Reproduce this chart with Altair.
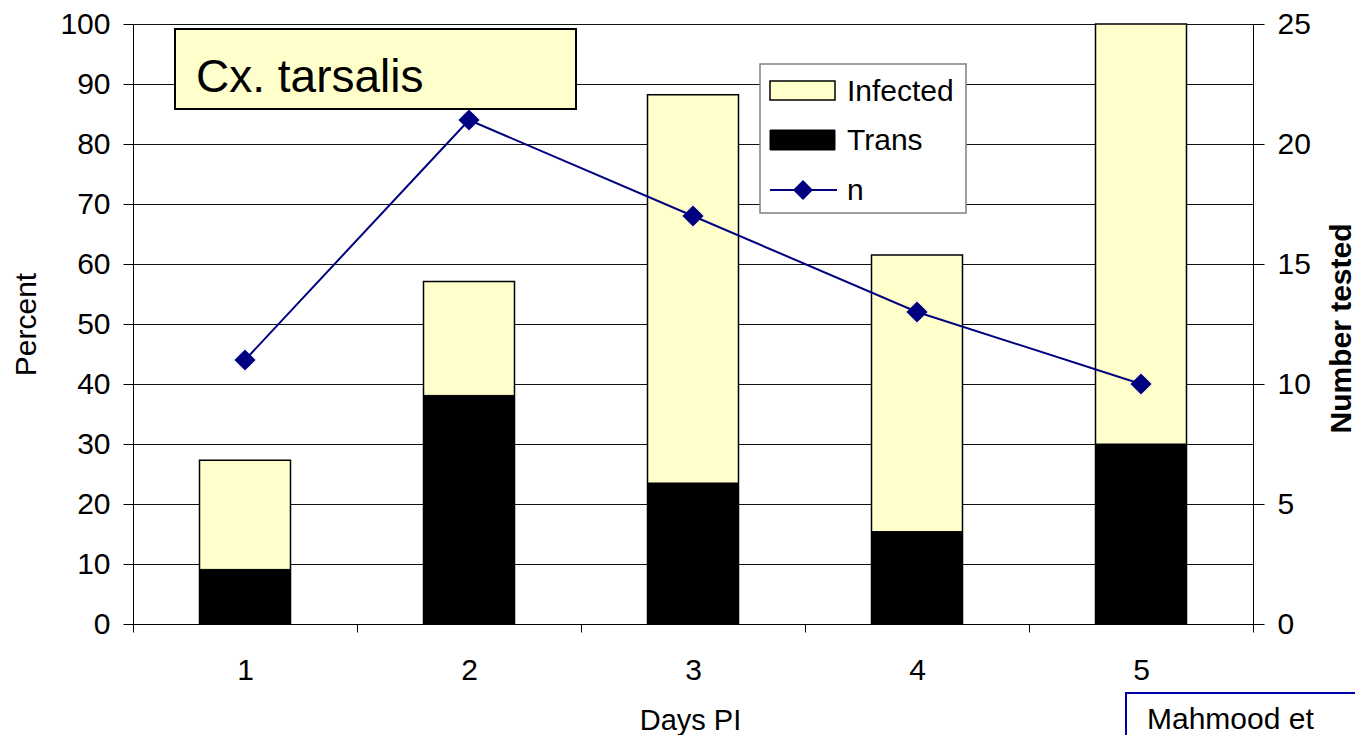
import altair as alt
import pandas as pd

# ---- data ----
days = [1, 2, 3, 4, 5]
infected = [27.3, 57.1, 88.2, 61.5, 100.0]
trans = [9.1, 38.1, 23.5, 15.4, 30.0]
n_tested = [11, 21, 17, 13, 10]

left_ticks = [0, 10, 20, 30, 40, 50, 60, 70, 80, 90, 100]
right_ticks = [0, 5, 10, 15, 20, 25]
x_bounds = [0.5, 1.5, 2.5, 3.5, 4.5, 5.5]

df = pd.DataFrame({"day": days, "Infected": infected, "Trans": trans, "n": n_tested})
one = pd.DataFrame({"k": [0]})

FONT = "Liberation Sans"
W, H = 1120, 600
YELLOW = "#FFFFCC"
NAVY = "#000080"

xscale = alt.Scale(domain=[0.5, 5.5], nice=False, zero=False, padding=0)
xaxis = alt.Axis(
    values=x_bounds,
    labelExpr="datum.value < 5 ? format(datum.value + 0.5, 'd') : ''",
    labelOffset=112, labelFlush=False, labelBound=False, labelOverlap=False,
    tickSize=8, tickColor="black", domainColor="black", grid=False,
    labelFontSize=30, labelPadding=23, labelColor="black",
    title="Days PI", titleX=557, titleY=96, titleBaseline="middle",
    titleAlign="center", titleFontSize=29, titleFontWeight="normal", titleColor="black",
)
yleft = alt.Axis(
    values=left_ticks, grid=True, gridColor="#111", gridWidth=1,
    tickSize=10, tickColor="black", domainColor="black",
    labelFontSize=30, labelPadding=13, labelColor="black",
    title="Percent", titleAngle=270, titleX=-107, titleY=300,
    titleBaseline="middle", titleAlign="center", titleFontSize=30,
    titleFontWeight="normal", titleColor="black",
)
yright = alt.Axis(
    orient="right", values=right_ticks, grid=False,
    tickSize=11, tickColor="black", domainColor="black",
    labelFontSize=30, labelPadding=13, labelColor="black",
    title="Number tested", titleAngle=270, titleX=88, titleY=304,
    titleBaseline="middle", titleAlign="center", titleFontSize=30,
    titleFontWeight="bold", titleColor="black",
)

base = alt.Chart(df)

bar_inf = base.mark_bar(size=91, fill=YELLOW, stroke="black", strokeWidth=1.5).encode(
    x=alt.X("day:Q", scale=xscale, axis=xaxis),
    y=alt.Y("Infected:Q", scale=alt.Scale(domain=[0, 100], nice=False), axis=yleft),
)
bar_trans = base.mark_bar(size=91, fill="black", stroke="black", strokeWidth=1).encode(
    x=alt.X("day:Q", scale=xscale),
    y=alt.Y("Trans:Q", scale=alt.Scale(domain=[0, 100], nice=False)),
)
bars = alt.layer(bar_inf, bar_trans)

line = base.mark_line(color=NAVY, strokeWidth=2).encode(
    x=alt.X("day:Q", scale=xscale),
    y=alt.Y("n:Q", scale=alt.Scale(domain=[0, 25], nice=False), axis=yright),
)
pts = base.mark_point(shape="diamond", filled=True, size=450, color=NAVY, opacity=1).encode(
    x=alt.X("day:Q", scale=xscale),
    y=alt.Y("n:Q", scale=alt.Scale(domain=[0, 25], nice=False)),
)
nlayer = alt.layer(line, pts)


def box(x, x2, y, y2, fill, stroke, sw):
    return alt.Chart(one).mark_rect(fill=fill, stroke=stroke, strokeWidth=sw).encode(
        x=alt.value(x), x2=alt.value(x2), y=alt.value(y), y2=alt.value(y2)
    )


def label(txt, x, y, size, weight="normal", color="black"):
    return alt.Chart(one).mark_text(
        text=txt, align="left", baseline="alphabetic", fontSize=size,
        font=FONT, fontWeight=weight, color=color,
    ).encode(x=alt.value(x), y=alt.value(y))


# title box
title_box = box(42, 443, 5, 85, YELLOW, "black", 2)
title_txt = label("Cx. tarsalis", 63, 68, 46)

# legend
leg_box = box(627, 833, 40, 189, "white", "#808080", 1.5)
leg_inf = box(637, 702, 57, 76, YELLOW, "black", 1.5)
leg_tr = box(637, 702, 106, 126, "black", "black", 1)
leg_line = alt.Chart(one).mark_rule(color=NAVY, strokeWidth=2).encode(
    x=alt.value(637), x2=alt.value(704), y=alt.value(166)
)
leg_pt = alt.Chart(one).mark_point(shape="diamond", filled=True, size=400, color=NAVY, opacity=1).encode(
    x=alt.value(670), y=alt.value(166)
)
leg_t1 = label("Infected", 714, 77, 30)
leg_t2 = label("Trans", 714, 126, 30)
leg_t3 = label("n", 714, 176, 30)

# citation box (box runs off the bottom right, as in the reference)
cite_box = box(993, 1245, 669, 740, "white", "#0000AA", 2)
cite_txt = label("Mahmood et", 1014, 705, 30)

chart = alt.layer(
    bars, nlayer,
    title_box, title_txt,
    leg_box, leg_inf, leg_tr, leg_line, leg_pt, leg_t1, leg_t2, leg_t3,
    cite_box, cite_txt,
).resolve_scale(y="independent").properties(
    width=W, height=H,
    autosize=alt.AutoSizeParams(type="none"),
    padding={"left": 125, "top": 16, "right": 102, "bottom": 111},
).configure_axis(
    labelFont=FONT, titleFont=FONT,
).configure_view(
    stroke="#999999", strokeWidth=2,
).configure(background="white")

chart.save("out.html", embed_options={"renderer": "svg", "actions": False})
